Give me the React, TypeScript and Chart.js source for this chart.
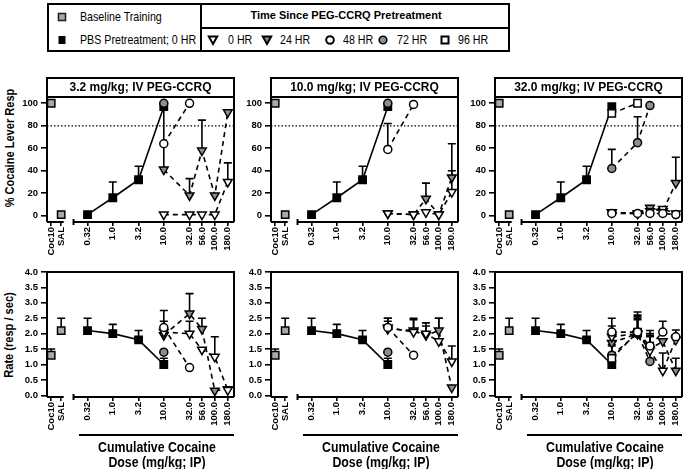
import React, { useEffect, useRef } from 'react';
import { Chart, registerables } from 'chart.js';
Chart.register(...registerables);

const FONT = "'Liberation Sans', Arial, sans-serif";
const SQUEEZE = 0.82; // the reference uses a narrow sans for the legend and axis titles

// ---------- axis categories ----------
const BASE_LABELS = ['Coc10', 'SAL'];
const BASE_X = [0.062, 0.0973]; // where Coc10 / SAL sit on the dose axis
const PBS_DOSES = [0.32, 1.0, 3.2, 10.0];
const TC_DOSES = [10.0, 32.0, 56.0, 100.0, 180.0];
const X_TICK_VALUES = [...BASE_X, 0.32, 1.0, 3.2, 10.0, 32.0, 56.0, 100.0, 180.0];
const X_TICK_LABELS = [...BASE_LABELS, '0.32', '1.0', '3.2', '10.0', '32.0', '56.0', '100.0', '180.0'];
const X_MIN = 0.0513;
const X_MAX = 238;
const X_SEGMENT_END = 0.109;
const X_BREAK = 0.17;

const PCT_TICKS = [0, 20, 40, 60, 80, 100];
const RATE_TICKS = [0, 0.5, 1.0, 1.5, 2.0, 2.5, 3.0, 3.5, 4.0];
const PCT_MIN = -5.6, PCT_MAX = 105.6;
const RATE_MIN = -0.055, RATE_MAX = 4.0;
const CRITERION = 80;

const PANEL_TITLES = ['3.2 mg/kg; IV PEG-CCRQ', '10.0 mg/kg; IV PEG-CCRQ', '32.0 mg/kg; IV PEG-CCRQ'];

// ---------- common series ----------
const BASE_PCT = [100, 1];
const BASE_PCT_SEM = [0, 0];
const BASE_RATE = [1.3, 2.1];
const BASE_RATE_SEM = [0.2, 0.4];
const PBS_PCT = [1, 16, 32, 97];
const PBS_PCT_SEM = [0, 14, 12, 0];
const PBS_RATE = [2.1, 2.0, 1.8, 1.0];
const PBS_RATE_SEM = [0.4, 0.3, 0.3, 0.2];

// ---------- panel 1: 3.2 mg/kg ----------
const P1_PCT_0HR = [1, 1, 1, 1, 30];
const P1_PCT_0HR_SEM = [0, 0, 0, 0, 17];
const P1_PCT_24HR = [41, 18, 58, 18, 92];
const P1_PCT_24HR_SEM = [56, 15, 27, 0, 0];
const P1_PCT_48HR = [64, 100];
const P1_PCT_72HR = [100];
const P1_RATE_0HR = [2.05, 2.0, 1.48, 1.25, 0.17];
const P1_RATE_0HR_SEM = [0.35, 0.4, 0, 0.65, 0];
const P1_RATE_24HR = [1.95, 2.65, 2.15, 0.15, 0.2];
const P1_RATE_24HR_SEM = [0, 0.65, 0.35, 0, 0];
const P1_RATE_48HR = [2.2, 0.9];
const P1_RATE_48HR_SEM = [0.55, 0];
const P1_RATE_72HR = [1.4];

// ---------- panel 2: 10.0 mg/kg ----------
const P2_PCT_0HR = [2, 1, 3, 1, 21];
const P2_PCT_0HR_SEM = [0, 0, 0, 0, 19];
const P2_PCT_24HR = [2, 1, 15, 1, 34];
const P2_PCT_24HR_SEM = [0, 0, 14, 0, 30];
const P2_PCT_48HR = [59, 99];
const P2_PCT_48HR_SEM = [23, 0];
const P2_PCT_72HR = [100];
const P2_RATE_0HR = [2.2, 2.05, 2.0, 1.75, 1.1];
const P2_RATE_0HR_SEM = [0.3, 0.45, 0.35, 0.75, 0.5];
const P2_RATE_24HR = [2.15, 2.1, 1.95, 2.1, 0.25];
const P2_RATE_24HR_SEM = [0.25, 0.35, 0.3, 0.4, 0];
const P2_RATE_48HR = [2.2, 1.3];
const P2_RATE_48HR_SEM = [0.3, 0];
const P2_RATE_72HR = [1.4];

// ---------- panel 3: 32.0 mg/kg ----------
const P3_PCT_0HR = [3, 2, 4, 6, 2];
const P3_PCT_24HR = [3, 2, 7, 4, 29];
const P3_PCT_24HR_SEM = [0, 0, 0, 0, 23];
const P3_PCT_48HR = [2, 2, 2, 2, 1];
const P3_PCT_72HR = [42, 65, 98];
const P3_PCT_72HR_SEM = [17, 23, 0];
const P3_PCT_96HR = [91, 100];
const P3_RATE_0HR = [1.9, 2.0, 1.45, 0.8, 1.8];
const P3_RATE_0HR_SEM = [0.35, 0.6, 0.55, 0.57, 0];
const P3_RATE_24HR = [1.7, 2.0, 1.5, 1.75, 0.8];
const P3_RATE_24HR_SEM = [0.2, 0.5, 0.4, 0, 0.4];
const P3_RATE_48HR = [2.05, 2.05, 1.6, 2.05, 1.9];
const P3_RATE_48HR_SEM = [0.45, 0.65, 0.5, 0.35, 0.22];
const P3_RATE_72HR = [1.3, 2.0, 1.1];
const P3_RATE_72HR_SEM = [0.3, 0.45, 0.85];
const P3_RATE_96HR = [1.2, 2.05];
const P3_RATE_96HR_SEM = [0.45, 0.5];

// ---------- styles ----------
const GRAY = '#8e8e8e';
const STYLES: any = {
  base: { pointStyle: 'rect', radius: 5.2, fill: '#a8a8a8', rotation: 0, line: null },
  pbs: { pointStyle: 'rect', radius: 5.2, fill: '#000', rotation: 0, line: [] },
  h0: { pointStyle: 'triangle', radius: 5, fill: '#fff', rotation: 180, line: [5, 4] },
  h24: { pointStyle: 'triangle', radius: 5, fill: GRAY, rotation: 180, line: [5, 4] },
  h48: { pointStyle: 'circle', radius: 4, fill: '#fff', rotation: 0, line: [5, 4] },
  h72: { pointStyle: 'circle', radius: 4, fill: GRAY, rotation: 0, line: [5, 4] },
  h96: { pointStyle: 'rect', radius: 5.2, fill: '#fff', rotation: 0, line: [5, 4] },
};

function series(key: string, xs: number[], ys: number[], sems?: number[]) {
  const st = STYLES[key];
  return {
    data: ys.map((y, i) => ({ x: xs[i], y })),
    sem: sems || [],
    showLine: st.line !== null,
    borderColor: '#000',
    borderWidth: 1.6,
    borderDash: st.line || [],
    pointStyle: st.pointStyle,
    pointRadius: st.radius,
    pointRotation: st.rotation,
    pointBackgroundColor: st.fill,
    pointBorderColor: '#000',
    pointBorderWidth: 1.5,
    fill: false,
    tension: 0,
  };
}

const PCT_SETS = [
  [
    series('h0', TC_DOSES, P1_PCT_0HR, P1_PCT_0HR_SEM),
    series('h24', TC_DOSES, P1_PCT_24HR, P1_PCT_24HR_SEM),
    series('h72', TC_DOSES, P1_PCT_72HR),
    series('h48', TC_DOSES, P1_PCT_48HR),
    series('pbs', PBS_DOSES, PBS_PCT, PBS_PCT_SEM),
    series('base', BASE_X, BASE_PCT, BASE_PCT_SEM),
  ],
  [
    series('h0', TC_DOSES, P2_PCT_0HR, P2_PCT_0HR_SEM),
    series('h24', TC_DOSES, P2_PCT_24HR, P2_PCT_24HR_SEM),
    series('h72', TC_DOSES, P2_PCT_72HR),
    series('h48', TC_DOSES, P2_PCT_48HR, P2_PCT_48HR_SEM),
    series('pbs', PBS_DOSES, PBS_PCT, PBS_PCT_SEM),
    series('base', BASE_X, BASE_PCT, BASE_PCT_SEM),
  ],
  [
    series('h48', TC_DOSES, P3_PCT_48HR),
    series('h0', TC_DOSES, P3_PCT_0HR),
    series('h24', TC_DOSES, P3_PCT_24HR, P3_PCT_24HR_SEM),
    series('h96', TC_DOSES, P3_PCT_96HR),
    series('h72', TC_DOSES, P3_PCT_72HR, P3_PCT_72HR_SEM),
    series('pbs', PBS_DOSES, PBS_PCT, PBS_PCT_SEM),
    series('base', BASE_X, BASE_PCT, BASE_PCT_SEM),
  ],
];

const RATE_SETS = [
  [
    series('h48', TC_DOSES, P1_RATE_48HR, P1_RATE_48HR_SEM),
    series('h0', TC_DOSES, P1_RATE_0HR, P1_RATE_0HR_SEM),
    series('h24', TC_DOSES, P1_RATE_24HR, P1_RATE_24HR_SEM),
    series('h72', TC_DOSES, P1_RATE_72HR),
    series('pbs', PBS_DOSES, PBS_RATE, PBS_RATE_SEM),
    series('base', BASE_X, BASE_RATE, BASE_RATE_SEM),
  ],
  [
    series('h48', TC_DOSES, P2_RATE_48HR, P2_RATE_48HR_SEM),
    series('h0', TC_DOSES, P2_RATE_0HR, P2_RATE_0HR_SEM),
    series('h24', TC_DOSES, P2_RATE_24HR, P2_RATE_24HR_SEM),
    series('h72', TC_DOSES, P2_RATE_72HR),
    series('pbs', PBS_DOSES, PBS_RATE, PBS_RATE_SEM),
    series('base', BASE_X, BASE_RATE, BASE_RATE_SEM),
  ],
  [
    series('h48', TC_DOSES, P3_RATE_48HR, P3_RATE_48HR_SEM),
    series('h96', TC_DOSES, P3_RATE_96HR, P3_RATE_96HR_SEM),
    series('h0', TC_DOSES, P3_RATE_0HR, P3_RATE_0HR_SEM),
    series('h24', TC_DOSES, P3_RATE_24HR, P3_RATE_24HR_SEM),
    series('h72', TC_DOSES, P3_RATE_72HR, P3_RATE_72HR_SEM),
    series('pbs', PBS_DOSES, PBS_RATE, PBS_RATE_SEM),
    series('base', BASE_X, BASE_RATE, BASE_RATE_SEM),
  ],
];

// ---------- layout ----------
const COL_LEFT = [47, 271, 495];
const PLOT_W = 187;
const PLOT_H = 125;
const PCT_TOP = 97;
const RATE_TOP = 272;
const TITLE_H = 19;
const Y_AXIS_W = 40;
const X_AXIS_H = 45;
const RIGHT_PAD = 8;
const PCT_PAD_TOP = TITLE_H + 4;
const RATE_PAD_TOP = 8;

// ---------- plugins ----------
const framePlugin = {
  id: 'frame',
  beforeDatasetsDraw(chart: any, _args: any, opts: any) {
    const { ctx, chartArea: a, scales } = chart;
    const xs = scales.x, ys = scales.y;
    ctx.save();
    ctx.strokeStyle = '#000';
    ctx.lineWidth = 2;
    const topY = opts.title ? a.top - TITLE_H : a.top;
    ctx.beginPath();
    ctx.moveTo(a.left, a.bottom);
    ctx.lineTo(a.left, topY);
    ctx.lineTo(a.right, topY);
    ctx.lineTo(a.right, a.bottom);
    if (opts.title) {
      ctx.moveTo(a.left, a.top);
      ctx.lineTo(a.right, a.top);
    }
    const segEnd = xs.getPixelForValue(X_SEGMENT_END);
    const brk = xs.getPixelForValue(X_BREAK);
    ctx.moveTo(a.left, a.bottom);
    ctx.lineTo(segEnd, a.bottom);
    ctx.moveTo(brk, a.bottom);
    ctx.lineTo(a.right, a.bottom);
    ctx.moveTo(brk, a.bottom - 3);
    ctx.lineTo(brk, a.bottom + 3);
    ctx.stroke();
    if (opts.title) {
      ctx.fillStyle = '#000';
      ctx.font = `bold 12px ${FONT}`;
      ctx.textAlign = 'center';
      ctx.textBaseline = 'middle';
      ctx.fillText(opts.title, (a.left + a.right) / 2, a.top - TITLE_H / 2);
    }
    if (opts.criterion != null) {
      const y = ys.getPixelForValue(opts.criterion);
      ctx.lineWidth = 1.2;
      ctx.setLineDash([1.5, 2]);
      ctx.beginPath();
      ctx.moveTo(a.left, y);
      ctx.lineTo(a.right, y);
      ctx.stroke();
    }
    ctx.restore();
  },
};

const errorBarPlugin = {
  id: 'errbars',
  beforeDatasetsDraw(chart: any) {
    const { ctx, scales } = chart;
    const xs = scales.x, ys = scales.y;
    ctx.save();
    ctx.strokeStyle = '#000';
    ctx.lineWidth = 1.6;
    chart.data.datasets.forEach((ds: any) => {
      (ds.data as any[]).forEach((p, i) => {
        const s = ds.sem[i];
        if (!s) return;
        const x = xs.getPixelForValue(p.x);
        const y0 = ys.getPixelForValue(p.y);
        const y1 = ys.getPixelForValue(p.y + s);
        ctx.beginPath();
        ctx.moveTo(x, y0);
        ctx.lineTo(x, y1);
        ctx.moveTo(x - 4, y1);
        ctx.lineTo(x + 4, y1);
        ctx.stroke();
      });
    });
    ctx.restore();
  },
};

function makeConfig(datasets: any[], isPct: boolean, title: string | null) {
  const yTicks = isPct ? PCT_TICKS : RATE_TICKS;
  return {
    type: 'line',
    data: { datasets },
    options: {
      responsive: false,
      animation: false,
      events: [],
      layout: { padding: { top: isPct ? PCT_PAD_TOP : RATE_PAD_TOP, right: RIGHT_PAD, left: 0, bottom: 0 } },
      plugins: {
        legend: { display: false },
        tooltip: { enabled: false },
        frame: { title, criterion: isPct ? CRITERION : null },
      },
      scales: {
        x: {
          type: 'logarithmic',
          min: X_MIN,
          max: X_MAX,
          afterBuildTicks: (s: any) => { s.ticks = X_TICK_VALUES.map((v) => ({ value: v })); },
          afterFit: (s: any) => { s.height = X_AXIS_H; s.paddingLeft = 0; s.paddingRight = 0; },
          ticks: {
            autoSkip: false, minRotation: 90, maxRotation: 90, padding: 1, color: '#000',
            font: { family: FONT, size: 9.5, weight: 'bold' },
            callback: (_v: any, i: number) => X_TICK_LABELS[i],
          },
          grid: { drawOnChartArea: false, drawTicks: true, tickLength: 4, color: '#000', lineWidth: 1.6 },
          border: { display: false },
        },
        y: {
          type: 'linear',
          min: isPct ? PCT_MIN : RATE_MIN,
          max: isPct ? PCT_MAX : RATE_MAX,
          afterBuildTicks: (s: any) => { s.ticks = yTicks.map((v) => ({ value: v })); },
          afterFit: (s: any) => { s.width = Y_AXIS_W; s.paddingTop = 0; s.paddingBottom = 0; },
          ticks: {
            padding: 3, color: '#000',
            font: { family: FONT, size: 9.5, weight: 'bold' },
            callback: (v: any) => (isPct ? String(v) : Number(v).toFixed(1)),
          },
          grid: { drawOnChartArea: false, drawTicks: true, tickLength: 6, color: '#000', lineWidth: 1.6 },
          border: { display: false },
        },
      },
    },
    plugins: [framePlugin, errorBarPlugin],
  } as any;
}

function Mark({ kind, cx, cy }: { kind: string; cx: number; cy: number }) {
  let shape: any = null;
  if (kind === 'graySq') shape = <rect x={2.5} y={2.5} width={7} height={7} fill="#a8a8a8" stroke="#222" strokeWidth={1.6} />;
  if (kind === 'blackSq') shape = <rect x={2.5} y={2} width={7} height={8} fill="#000" />;
  if (kind === 'whiteSq') shape = <rect x={2.5} y={2.5} width={7} height={7} fill="#fff" stroke="#000" strokeWidth={2} />;
  if (kind === 'whiteTri') shape = <polygon points="1.8,2.5 10.2,2.5 6,10" fill="#fff" stroke="#000" strokeWidth={2} />;
  if (kind === 'grayTri') shape = <polygon points="1.8,2.5 10.2,2.5 6,10" fill={GRAY} stroke="#000" strokeWidth={2} />;
  if (kind === 'whiteCirc') shape = <circle cx={6} cy={6} r={3.8} fill="#fff" stroke="#000" strokeWidth={2} />;
  if (kind === 'grayCirc') shape = <circle cx={6} cy={6} r={3.8} fill={GRAY} stroke="#000" strokeWidth={1.6} />;
  return (
    <svg width={12} height={12} style={{ position: 'absolute', left: cx - 6, top: cy - 6 }}>
      {shape}
    </svg>
  );
}

function Txt({ x, y, text, size = 13, bold = false, align = 'left', width = 200, squeeze = SQUEEZE }: any) {
  const left = align === 'center' ? x - width / 2 : x;
  return (
    <div
      style={{
        position: 'absolute', left, top: y - 9, width, height: 18, lineHeight: '18px',
        fontFamily: FONT, fontSize: size, fontWeight: bold ? 'bold' : 'normal',
        textAlign: align, whiteSpace: 'nowrap', color: '#000',
        transform: `scaleX(${squeeze})`, transformOrigin: align === 'center' ? '50% 50%' : '0 50%',
      }}
    >
      {text}
    </div>
  );
}

const LEGEND_ITEMS = [
  { kind: 'whiteTri', label: '0 HR', mx: 213, tx: 228 },
  { kind: 'grayTri', label: '24 HR', mx: 267, tx: 280 },
  { kind: 'whiteCirc', label: '48 HR', mx: 330, tx: 343 },
  { kind: 'grayCirc', label: '72 HR', mx: 383, tx: 397 },
  { kind: 'whiteSq', label: '96 HR', mx: 445, tx: 458 },
];

const yTitleStyle: any = {
  position: 'absolute', width: 200, height: 18, lineHeight: '18px', textAlign: 'center',
  transform: `rotate(-90deg) scaleX(${SQUEEZE})`, fontFamily: FONT, fontWeight: 'bold', fontSize: 13.5, whiteSpace: 'nowrap',
};

export default function App() {
  const pctRefs = [useRef<HTMLCanvasElement>(null), useRef<HTMLCanvasElement>(null), useRef<HTMLCanvasElement>(null)];
  const rateRefs = [useRef<HTMLCanvasElement>(null), useRef<HTMLCanvasElement>(null), useRef<HTMLCanvasElement>(null)];

  useEffect(() => {
    const charts: Chart[] = [];
    for (let c = 0; c < 3; c++) {
      charts.push(new Chart(pctRefs[c].current as HTMLCanvasElement, makeConfig(PCT_SETS[c], true, PANEL_TITLES[c])));
      charts.push(new Chart(rateRefs[c].current as HTMLCanvasElement, makeConfig(RATE_SETS[c], false, null)));
    }
    return () => charts.forEach((ch) => ch.destroy());
  }, []);

  const canvasW = Y_AXIS_W + PLOT_W + RIGHT_PAD;
  const pctH = PCT_PAD_TOP + PLOT_H + X_AXIS_H;
  const rateH = RATE_PAD_TOP + PLOT_H + X_AXIS_H;

  return (
    <div style={{ position: 'fixed', left: 0, top: 0, width: 685, height: 469, background: '#fff', overflow: 'hidden' }}>
      {/* legend */}
      <div style={{ position: 'absolute', left: 47, top: 3, width: 463, height: 49, border: '2px solid #000', boxSizing: 'border-box' }} />
      <div style={{ position: 'absolute', left: 200, top: 3, width: 2, height: 49, background: '#000' }} />
      <div style={{ position: 'absolute', left: 201, top: 27, width: 308, height: 2, background: '#000' }} />
      <Mark kind="graySq" cx={62} cy={17} />
      <Txt x={80} y={17} text="Baseline Training" />
      <Mark kind="blackSq" cx={62} cy={40} />
      <Txt x={80} y={40} text="PBS Pretreatment; 0 HR" />
      <Txt x={346} y={15} width={300} align="center" bold size={11} squeeze={1} text="Time Since PEG-CCRQ Pretreatment" />
      {LEGEND_ITEMS.map((it) => (
        <React.Fragment key={it.label}>
          <Mark kind={it.kind} cx={it.mx} cy={40} />
          <Txt x={it.tx} y={40} text={it.label} />
        </React.Fragment>
      ))}

      {/* y axis titles */}
      <div style={{ ...yTitleStyle, left: 10 - 100, top: 148 - 9 }}>% Cocaine Lever Resp</div>
      <div style={{ ...yTitleStyle, left: 9 - 100, top: 335 - 9 }}>Rate (resp / sec)</div>

      {COL_LEFT.map((L, c) => (
        <React.Fragment key={c}>
          <canvas ref={pctRefs[c]} width={canvasW} height={pctH} style={{ position: 'absolute', left: L - Y_AXIS_W, top: PCT_TOP - PCT_PAD_TOP, width: canvasW, height: pctH }} />
          <canvas ref={rateRefs[c]} width={canvasW} height={rateH} style={{ position: 'absolute', left: L - Y_AXIS_W, top: RATE_TOP - RATE_PAD_TOP, width: canvasW, height: rateH }} />
          <div style={{ position: 'absolute', left: L + 32, top: 434, width: PLOT_W - 32, height: 1.6, background: '#000' }} />
          <Txt x={L + 32 + (PLOT_W - 32) / 2} y={447} width={200} align="center" bold size={14.5} squeeze={0.85} text="Cumulative Cocaine" />
          <Txt x={L + 32 + (PLOT_W - 32) / 2} y={462} width={200} align="center" bold size={14.5} squeeze={0.85} text="Dose (mg/kg; IP)" />
        </React.Fragment>
      ))}
    </div>
  );
}
